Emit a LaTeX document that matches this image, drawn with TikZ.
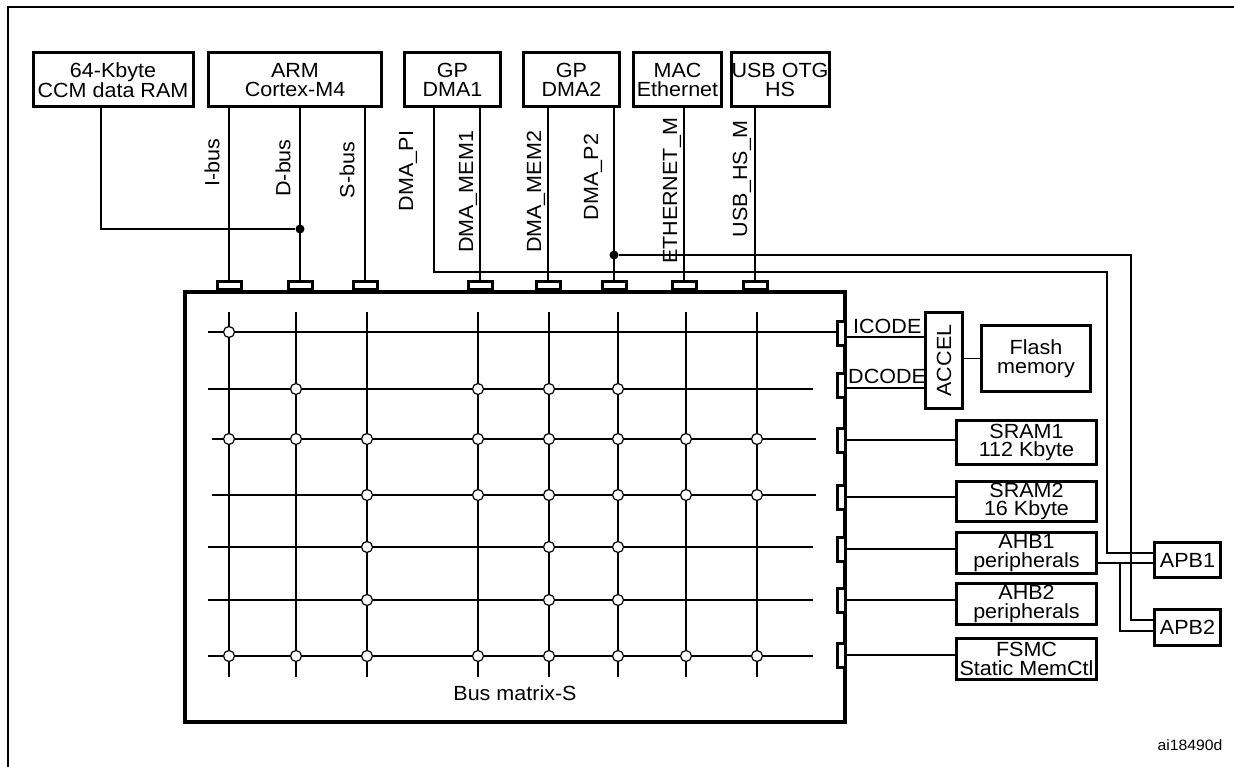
\documentclass[tikz,border=0pt]{standalone}
\usepackage{fontspec}
\setmainfont{Liberation Sans}[FakeStretch=1.05]
\begin{document}
\begin{tikzpicture}[x=1pt,y=-1pt,
  box/.style={draw, line width=3pt, rectangle, inner sep=0pt, align=center, font=\fontsize{20.5}{18.5}\selectfont},
  wire/.style={line width=1.3pt},
  gridline/.style={line width=1.3pt},
  porth/.style={draw, fill=white, line width=3pt, minimum width=24, minimum height=8, inner sep=0pt},
  portv/.style={draw, fill=white, line width=3pt, minimum width=8, minimum height=24, inner sep=0pt},
  xp/.style={circle, draw, line width=1.2pt, fill=white, minimum size=11, inner sep=0pt},
  jdot/.style={circle, fill=black, minimum size=9, inner sep=0pt},
  lbl/.style={font=\fontsize{20.5}{18.5}\selectfont, inner sep=0pt},
  vlbl/.style={lbl, rotate=90}]
\useasboundingbox (0,0) rectangle (1234,767);
% frame
\draw[line width=2.5pt] (8,767) -- (8,7) -- (1234,7);

% top masters
\node[box, minimum width=160, minimum height=54] (ccm) at (113,80) {64-Kbyte\\CCM data RAM};
\node[box, minimum width=173, minimum height=54] (arm) at (295,80) {ARM\\Cortex-M4};
\node[box, minimum width=96, minimum height=54] (dma1) at (452.5,80) {GP\\DMA1};
\node[box, minimum width=96, minimum height=54] (dma2) at (571.5,80) {GP\\DMA2};
\node[box, minimum width=88, minimum height=54] (mac) at (677.5,80) {MAC\\Ethernet};
\node[box, minimum width=98, minimum height=54] (usb) at (780,80) {USB OTG\\HS};

% bus matrix
\node[draw, line width=3.5pt, minimum width=660, minimum height=430, inner sep=0pt] (bm) at (515,507) {};
\node[lbl] (lbm) at (515,693) {Bus matrix-S};

% grid
\foreach \c in {229,296,367,478,549,618,686,757}
  \draw[gridline] (\c,312) -- (\c,677);
\draw[gridline] (208,332) -- (836,332);
\foreach \r in {389,547,600,656}
  \draw[gridline] (208,\r) -- (813,\r);
\foreach \r in {439,495}
  \draw[gridline] (212,\r) -- (816,\r);

% crosspoints
\node[xp] (x11) at (229,332) {};
\foreach \c in {296,478,549,618} \node[xp] (x2-\c) at (\c,389) {};
\foreach \c in {229,296,367,478,549,618,686,757} \node[xp] (x3-\c) at (\c,439) {};
\foreach \c in {367,478,549,618,686,757} \node[xp] (x4-\c) at (\c,495) {};
\foreach \c in {367,549,618} \node[xp] (x5-\c) at (\c,547) {};
\foreach \c in {367,549,618} \node[xp] (x6-\c) at (\c,600) {};
\foreach \c in {229,296,367,478,549,618,686,757} \node[xp] (x7-\c) at (\c,656) {};

% top ports
\node[porth] (p1) at (229,286) {};
\node[porth] (p2) at (300,286) {};
\node[porth] (p3) at (365,286) {};
\node[porth] (p4) at (480,286) {};
\node[porth] (p5) at (548,286) {};
\node[porth] (p6) at (614,286) {};
\node[porth] (p7) at (684,286) {};
\node[porth] (p8) at (755,286) {};

% right ports
\node[portv] (r1) at (841,333) {};
\node[portv] (r2) at (841,385) {};
\node[portv] (r3) at (841,440) {};
\node[portv] (r4) at (841,497) {};
\node[portv] (r5) at (841,549) {};
\node[portv] (r6) at (841,600) {};
\node[portv] (r7) at (841,655) {};

% slaves
\node[box, minimum width=37, minimum height=96] (accel) at (944,360.5) {};
\node[vlbl] (laccel) at (accel) {ACCEL};
\node[box, minimum width=109, minimum height=66] (flash) at (1036,358.5) {Flash\\memory};
\node[box, minimum width=140, minimum height=44] (sram1) at (1026.5,442.5) {SRAM1\\112 Kbyte};
\node[box, minimum width=140, minimum height=40] (sram2) at (1026.5,501.5) {SRAM2\\16 Kbyte};
\node[box, minimum width=140, minimum height=41] (ahb1) at (1026.5,553) {AHB1\\peripherals};
\node[box, minimum width=140, minimum height=41] (ahb2) at (1026.5,604) {AHB2\\peripherals};
\node[box, minimum width=140, minimum height=41] (fsmc) at (1026.5,659) {FSMC\\Static MemCtl};
\node[box, minimum width=66, minimum height=35] (apb1) at (1187.5,560) {APB1};
\node[box, minimum width=66, minimum height=36] (apb2) at (1187.5,627.5) {APB2};

% master bus lines
\draw[wire] (arm.south -| p1) -- (p1.north);
\draw[wire] (arm.south -| p2) -- (p2.north);
\draw[wire] (arm.south -| p3) -- (p3.north);
\draw[wire] (dma1.south -| p4) -- (p4.north);
\draw[wire] (dma2.south -| p5) -- (p5.north);
\draw[wire] (dma2.south -| p6) -- (p6.north);
\draw[wire] (mac.south -| p7) -- (p7.north);
\draw[wire] (usb.south -| p8) -- (p8.north);

\node[jdot] (dbj) at (300,229) {};
\draw[wire] ([xshift=-12pt]ccm.south) |- (dbj);

\coordinate (t1) at (1107,272);
\draw[wire] ([xshift=-18.5pt]dma1.south) |- (t1) |- ([yshift=7pt]apb1.west);
\node[jdot] (p2j) at (614,255) {};
\coordinate (t2) at (1131,255);
\draw[wire] (p2j) -- (t2) |- ([yshift=7.5pt]apb2.west);
\draw[wire] ([yshift=-10pt]ahb1.east) -- ([yshift=-3pt]apb1.west);
\coordinate (t3) at (1120,563);
\draw[wire] (t3) |- ([yshift=-3.5pt]apb2.west);

% slave lines
\draw[wire] ([yshift=-4pt]r1.east) -- ([yshift=-4pt]r1.east -| accel.west);
\draw[wire] ([yshift=-3pt]r2.east) -- ([yshift=-3pt]r2.east -| accel.west);
\draw[wire] (flash.west -| accel.east) -- (flash.west);
\draw[wire] (r3.east) -- (r3.east -| sram1.west);
\draw[wire] (r4.east) -- (r4.east -| sram2.west);
\draw[wire] (r5.east) -- (r5.east -| ahb1.west);
\draw[wire] (r6.east) -- (r6.east -| ahb2.west);
\draw[wire] (r7.east) -- (r7.east -| fsmc.west);

% labels
\node[vlbl] (lI) at (212,163) {I-bus};
\node[vlbl] (lD) at (283,168) {D-bus};
\node[vlbl] (lS) at (347,170) {S-bus};
\node[vlbl] (lPI) at (408,171) {DMA\_PI};
\node[vlbl] (lM1) at (468,192) {DMA\_MEM1};
\node[vlbl] (lM2) at (536,192) {DMA\_MEM2};
\node[vlbl] (lP2) at (593,177) {DMA\_P2};
\node[vlbl] (lE) at (672,191) {ETHERNET\_M};
\node[vlbl] (lU) at (742,179) {USB\_HS\_M};
\node[lbl, anchor=base west] (lic) at (853,333) {ICODE};
\node[lbl, anchor=base west] (ldc) at (848,383) {DCODE};
\node[font=\fontsize{15}{15}\selectfont, inner sep=0pt] (ai) at (1190,745) {ai18490d};
\end{tikzpicture}
\end{document}
